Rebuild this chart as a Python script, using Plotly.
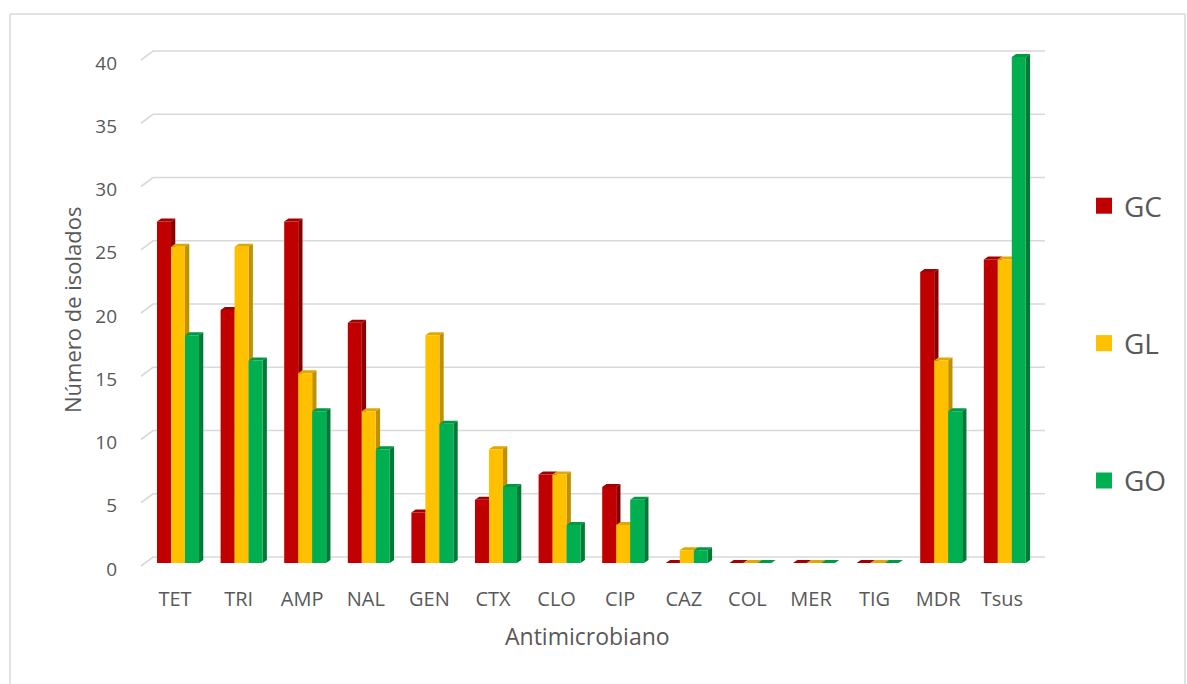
import plotly.graph_objects as go

# Antimicrobial resistance counts per group
categories = ["TET", "TRI", "AMP", "NAL", "GEN", "CTX", "CLO", "CIP",
              "CAZ", "COL", "MER", "TIG", "MDR", "Tsus"]
gc = [27, 20, 27, 19, 4, 5, 7, 6, 0, 0, 0, 0, 23, 24]
gl = [25, 25, 15, 12, 18, 9, 7, 3, 1, 0, 0, 0, 16, 24]
go_vals = [18, 16, 12, 9, 11, 6, 3, 5, 1, 0, 0, 0, 12, 40]
y_ticks = [0, 5, 10, 15, 20, 25, 30, 35, 40]

series = [
    ("GC", gc, "#C00000", "#8A0000", "#A30000"),
    ("GL", gl, "#FFC000", "#BF9000", "#E0A800"),
    ("GO", go_vals, "#00B050", "#007A36", "#009A45"),
]

FONT = "Open Sans, Lato, sans-serif"
W, H = 1187, 684
L, R, T, B = 130, 127, 40, 104
x_range = [-0.7075, 13.915]
y_range = [-1.344, 41.344]
px_x = (W - L - R) / (x_range[1] - x_range[0])
px_y = (H - T - B) / (y_range[1] - y_range[0])

bar_w = 0.22            # front face width (category units)
group_shift = 0.047
dx = 4.3 / px_x         # depth offset of the bar sides
dy = 3.0 / px_y

fig = go.Figure()

# Back-wall gridlines with their slanted floor-side start
gx0, gx1, gx2 = (141 - 175) / 63.6, (153 - 175) / 63.6, (1045 - 175) / 63.6
gdy_lo, gdy_hi = 3.0 / px_y, 6.0 / px_y
gxs, gys = [], []
for v in y_ticks:
    gxs += [gx0, gx1, gx2, None]
    gys += [v - gdy_lo, v + gdy_hi, v + gdy_hi, None]
fig.add_trace(go.Scatter(x=gxs, y=gys, mode="lines",
                         line=dict(color="#D9D9D9", width=1.6),
                         hoverinfo="skip", showlegend=False))


def faces(values, s):
    front_x, front_y, side_x, side_y, top_x, top_y = [], [], [], [], [], []
    for i, v in enumerate(values):
        x0 = i + group_shift - 1.5 * bar_w + s * bar_w
        x1 = x0 + bar_w
        front_x += [x0, x1, x1, x0, x0, None]
        front_y += [0, 0, v, v, 0, None]
        side_x += [x1, x1 + dx, x1 + dx, x1, x1, None]
        side_y += [0, dy, v + dy, v, 0, None]
        top_x += [x0, x0 + dx, x1 + dx, x1, x0, None]
        top_y += [v, v + dy, v + dy, v, v, None]
    return (front_x, front_y), (side_x, side_y), (top_x, top_y)


for s, (name, vals, c_front, c_side, c_top) in enumerate(series):
    front, side, top = faces(vals, s)
    for (xs, ys), col in ((top, c_top), (side, c_side)):
        fig.add_trace(go.Scatter(x=xs, y=ys, mode="lines", fill="toself",
                                 fillcolor=col, line=dict(width=0, color=col),
                                 hoverinfo="skip", showlegend=False))
    fig.add_trace(go.Scatter(x=front[0], y=front[1], mode="lines", fill="toself",
                             fillcolor=c_front, line=dict(width=0, color=c_front),
                             name=name, showlegend=False))

# Legend entries
for s, (name, vals, c_front, c_side, c_top) in enumerate(series):
    fig.add_trace(go.Scatter(x=[None], y=[None], mode="markers", name=name,
                             marker=dict(symbol="square", size=18, color=c_front),
                             legendgroup=name, showlegend=True))

fig.update_layout(
    width=W, height=H,
    margin=dict(l=L, r=R, t=T, b=B),
    paper_bgcolor="white", plot_bgcolor="rgba(0,0,0,0)",
    font=dict(family=FONT, color="#595959", size=19),
    xaxis=dict(range=x_range, tickvals=list(range(len(categories))),
               ticktext=categories, showgrid=False, zeroline=False,
               showline=False, ticks="", ticklabelstandoff=5,
               tickfont=dict(size=20)),
    yaxis=dict(range=y_range, tickvals=y_ticks, showgrid=False, zeroline=False,
               showline=False, ticks="", ticklabelstandoff=12,
               ticklabelshift=6, tickfont=dict(size=19)),
    legend=dict(x=(1084 - L) / (W - L - R), y=1 - (181 - T) / (H - T - B),
                xanchor="left", yanchor="top", tracegroupgap=98,
                font=dict(size=28, color="#595959"),
                bgcolor="rgba(0,0,0,0)", itemwidth=30),
    showlegend=True,
    annotations=[
        dict(text="Antimicrobiano", xref="paper", yref="paper",
             x=(587 - L) / (W - L - R), y=1 - (636 - T) / (H - T - B),
             showarrow=False, font=dict(size=23, color="#595959"),
             xanchor="center", yanchor="middle"),
        dict(text="Número de isolados", xref="paper", yref="paper",
             x=(72 - L) / (W - L - R), y=1 - (310 - T) / (H - T - B),
             showarrow=False, textangle=-90, font=dict(size=22, color="#595959"),
             xanchor="center", yanchor="middle"),
    ],
    shapes=[
        dict(type="rect", xref="paper", yref="paper",
             x0=(10 - L) / (W - L - R), x1=(1185 - L) / (W - L - R),
             y0=1 - (700 - T) / (H - T - B), y1=1 - (14 - T) / (H - T - B),
             line=dict(color="#D9D9D9", width=1.5), layer="below"),
    ],
)

fig.write_html("out.html")
